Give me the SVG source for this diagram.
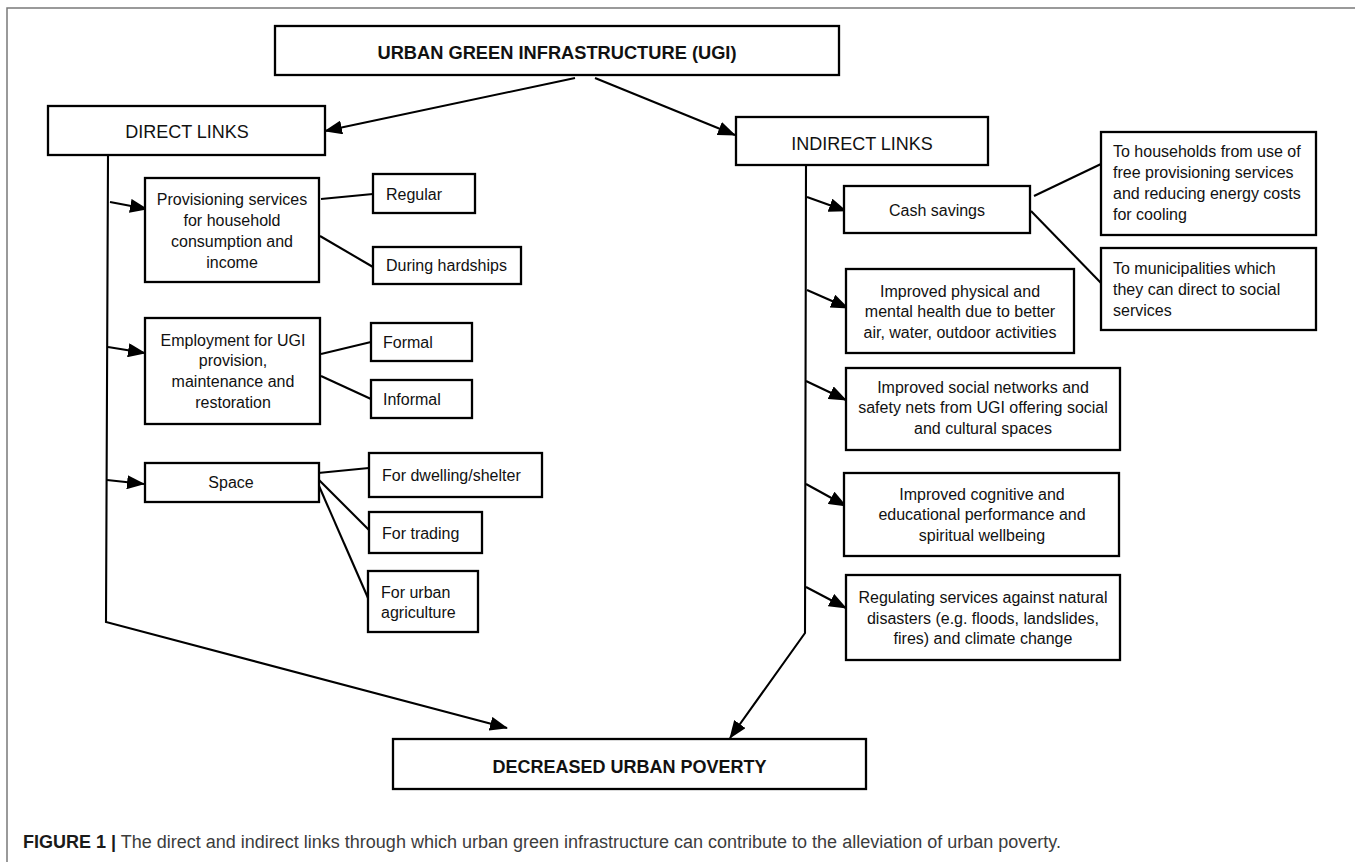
<svg xmlns="http://www.w3.org/2000/svg" width="1355" height="862" viewBox="0 0 1355 862">
<style>
.box{fill:#fff;stroke:#000;stroke-width:2.3}
.ln{fill:none;stroke:#000;stroke-width:2.1}
.t{font-family:"Liberation Sans",Arial,sans-serif;font-size:16px;fill:#111}
.c{text-anchor:middle}
.big{font-size:18px}
.b{font-weight:bold}
.frame{stroke:#7a7a7a;stroke-width:1.5;fill:none}
.cap{font-family:"Liberation Sans",Arial,sans-serif;font-size:18px;fill:#3c3c3c}
</style>
<defs>
<marker id="ah" markerUnits="userSpaceOnUse" markerWidth="18" markerHeight="14" viewBox="0 0 18 14" refX="17" refY="7" orient="auto">
<path d="M0,0 L18,7 L0,14 z" fill="#000"/>
</marker>
</defs>
<rect width="1355" height="862" fill="#fff"/>
<path class="frame" d="M7,862 L7,8 L1355,8"/>

<g id="connectors">
<line class="ln" x1="575" y1="78" x2="325" y2="131" marker-end="url(#ah)"/>
<line class="ln" x1="595" y1="78" x2="735" y2="135" marker-end="url(#ah)"/>
<polyline class="ln" points="108,155 106,622 507,728" marker-end="url(#ah)"/>
<polyline class="ln" points="806,165 805,633 730,738" marker-end="url(#ah)"/>
<line class="ln" x1="110" y1="202" x2="147" y2="209" marker-end="url(#ah)"/>
<line class="ln" x1="108" y1="347" x2="145" y2="353" marker-end="url(#ah)"/>
<line class="ln" x1="107" y1="480" x2="144" y2="484" marker-end="url(#ah)"/>
<line class="ln" x1="807" y1="197" x2="846" y2="211" marker-end="url(#ah)"/>
<line class="ln" x1="807" y1="290" x2="848" y2="308" marker-end="url(#ah)"/>
<line class="ln" x1="806" y1="381" x2="846" y2="400" marker-end="url(#ah)"/>
<line class="ln" x1="806" y1="484" x2="846" y2="506" marker-end="url(#ah)"/>
<line class="ln" x1="806" y1="587" x2="846" y2="608" marker-end="url(#ah)"/>
<line class="ln" x1="321" y1="199" x2="373" y2="194"/>
<line class="ln" x1="320" y1="236" x2="373" y2="267"/>
<line class="ln" x1="321" y1="354" x2="371" y2="342"/>
<line class="ln" x1="321" y1="376" x2="371" y2="399"/>
<line class="ln" x1="318" y1="473" x2="369" y2="468"/>
<line class="ln" x1="319" y1="480" x2="369" y2="530"/>
<line class="ln" x1="319" y1="486" x2="368" y2="598"/>
<line class="ln" x1="1034" y1="196" x2="1101" y2="164"/>
<line class="ln" x1="1031" y1="211" x2="1101" y2="283"/>
</g>

<g id="ugi">
<rect class="box" x="275" y="26" width="564" height="49"/>
<text class="t c b" x="557" y="59" style="font-size:18.5px" textLength="359" lengthAdjust="spacingAndGlyphs">URBAN GREEN INFRASTRUCTURE (UGI)</text>
</g>
<g id="direct">
<rect class="box" x="48" y="106" width="277" height="49"/>
<text class="t c big" x="187" y="138">DIRECT LINKS</text>
</g>
<g id="indirect">
<rect class="box" x="736" y="117" width="252" height="48"/>
<text class="t c big" x="862" y="150">INDIRECT LINKS</text>
</g>

<g id="provisioning">
<rect class="box" x="145" y="178" width="174" height="104"/>
<text class="t c" x="232" y="205">Provisioning services</text>
<text class="t c" x="232" y="226">for household</text>
<text class="t c" x="232" y="247">consumption and</text>
<text class="t c" x="232" y="268">income</text>
</g>
<g id="regular">
<rect class="box" x="373" y="174" width="102" height="39"/>
<text class="t" x="386" y="200">Regular</text>
</g>
<g id="hardships">
<rect class="box" x="373" y="247" width="148" height="37"/>
<text class="t" x="386" y="271">During hardships</text>
</g>
<g id="employment">
<rect class="box" x="145" y="318" width="175" height="106"/>
<text class="t c" x="233" y="346">Employment for UGI</text>
<text class="t c" x="233" y="366">provision,</text>
<text class="t c" x="233" y="387">maintenance and</text>
<text class="t c" x="233" y="408">restoration</text>
</g>
<g id="formal">
<rect class="box" x="371" y="323" width="101" height="38"/>
<text class="t" x="383" y="348">Formal</text>
</g>
<g id="informal">
<rect class="box" x="371" y="380" width="101" height="38"/>
<text class="t" x="383" y="405">Informal</text>
</g>
<g id="space">
<rect class="box" x="145" y="463" width="174" height="39"/>
<text class="t c" x="231" y="488">Space</text>
</g>
<g id="dwelling">
<rect class="box" x="369" y="453" width="173" height="44"/>
<text class="t" x="382" y="481">For dwelling/shelter</text>
</g>
<g id="trading">
<rect class="box" x="369" y="512" width="113" height="41"/>
<text class="t" x="382" y="539">For trading</text>
</g>
<g id="agriculture">
<rect class="box" x="368" y="571" width="110" height="61"/>
<text class="t" x="381" y="598">For urban</text>
<text class="t" x="381" y="618">agriculture</text>
</g>

<g id="cash">
<rect class="box" x="844" y="186" width="186" height="47"/>
<text class="t c" x="937" y="216">Cash savings</text>
</g>
<g id="households">
<rect class="box" x="1101" y="132" width="215" height="103"/>
<text class="t" x="1113" y="157">To households from use of</text>
<text class="t" x="1113" y="178">free provisioning services</text>
<text class="t" x="1113" y="199">and reducing energy costs</text>
<text class="t" x="1113" y="220">for cooling</text>
</g>
<g id="municipalities">
<rect class="box" x="1101" y="248" width="215" height="82"/>
<text class="t" x="1113" y="274">To municipalities which</text>
<text class="t" x="1113" y="295">they can direct to social</text>
<text class="t" x="1113" y="316">services</text>
</g>
<g id="health">
<rect class="box" x="846" y="269" width="228" height="84"/>
<text class="t c" x="960" y="297">Improved physical and</text>
<text class="t c" x="960" y="317">mental health due to better</text>
<text class="t c" x="960" y="338">air, water, outdoor activities</text>
</g>
<g id="social">
<rect class="box" x="846" y="368" width="274" height="82"/>
<text class="t c" x="983" y="393">Improved social networks and</text>
<text class="t c" x="983" y="413">safety nets from UGI offering social</text>
<text class="t c" x="983" y="434">and cultural spaces</text>
</g>
<g id="cognitive">
<rect class="box" x="844" y="473" width="275" height="83"/>
<text class="t c" x="982" y="500">Improved cognitive and</text>
<text class="t c" x="982" y="520">educational performance and</text>
<text class="t c" x="982" y="541">spiritual wellbeing</text>
</g>
<g id="regulating">
<rect class="box" x="846" y="575" width="274" height="85"/>
<text class="t c" x="983" y="603">Regulating services against natural</text>
<text class="t c" x="983" y="624">disasters (e.g. floods, landslides,</text>
<text class="t c" x="983" y="644">fires) and climate change</text>
</g>
<g id="poverty">
<rect class="box" x="393" y="739" width="473" height="50"/>
<text class="t c big b" x="629.5" y="773">DECREASED URBAN POVERTY</text>
</g>

<text class="cap" x="23" y="848"><tspan font-weight="bold" fill="#1a1a1a">FIGURE 1 |</tspan> The direct and indirect links through which urban green infrastructure can contribute to the alleviation of urban poverty.</text>
</svg>
